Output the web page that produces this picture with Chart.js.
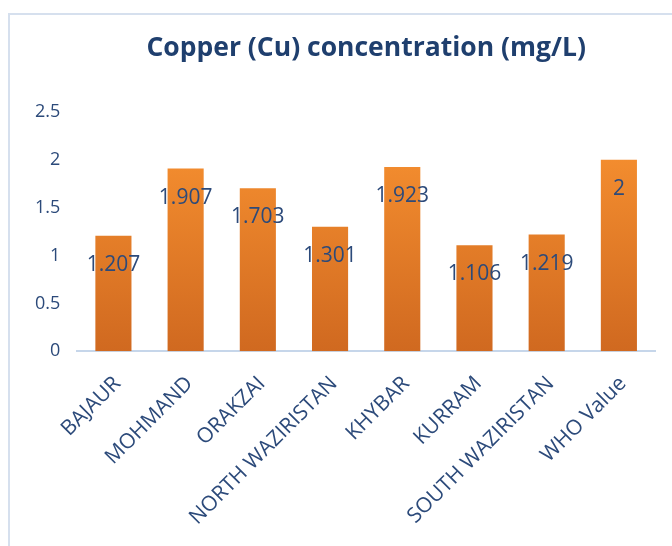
<!DOCTYPE html>
<html>
<head>
<meta charset="utf-8">
<script src="https://cdn.jsdelivr.net/npm/chart.js@4.4.1/dist/chart.umd.min.js"></script>
<style>
  html, body { margin: 0; padding: 0; background: #fff; }
  #frame {
    position: absolute; left: 8px; top: 13px;
    width: 700px; height: 600px;
    border: 2px solid #d6e0ee;
  }
  #wrap { position: absolute; left: 0; top: 0; width: 672px; height: 546px; }
</style>
</head>
<body>
<div id="frame"></div>
<div id="wrap"><canvas id="cuChart"></canvas></div>
<script>
// data
const districts = ['BAJAUR', 'MOHMAND', 'ORAKZAI', 'NORTH WAZIRISTAN', 'KHYBAR', 'KURRAM', 'SOUTH WAZIRISTAN', 'WHO Value'];
const copperValues = [1.207, 1.907, 1.703, 1.301, 1.923, 1.106, 1.219, 2];
const valueLabels = ['1.207', '1.907', '1.703', '1.301', '1.923', '1.106', '1.219', '2'];
const yTicks = [0, 0.5, 1, 1.5, 2, 2.5];

const textBlue = '#2c4a7a';
const font = '"Open Sans", "DejaVu Sans", sans-serif';

// orange gradient, lighter at top
function barGradient(context) {
    const area = context.chart.chartArea;
    if (!area) return '#f08a2a';
    const g = context.chart.ctx.createLinearGradient(0, area.top, 0, area.bottom);
    g.addColorStop(0, '#fb9532');
    g.addColorStop(1, '#d06920');
    return g;
}

// value labels just inside the bar top
const valueLabelPlugin = {
    id: 'valueLabels',
    afterDatasetsDraw(chart) {
        const c = chart.ctx;
        const meta = chart.getDatasetMeta(0);
        c.save();
        c.fillStyle = textBlue;
        c.font = '21px ' + font;
        c.textAlign = 'center';
        c.textBaseline = 'middle';
        meta.data.forEach((bar, i) => {
            c.fillText(valueLabels[i], bar.x, bar.y + 29);
        });
        c.restore();
    }
};

const ctx = document.getElementById('cuChart').getContext('2d');

new Chart(ctx, {
    type: 'bar',
    data: {
        labels: districts,
        datasets: [{
            data: copperValues,
            backgroundColor: barGradient,
            borderWidth: 0,
            categoryPercentage: 1,
            barPercentage: 0.5
        }]
    },
    options: {
        responsive: true,
        maintainAspectRatio: false,
        animation: false,
        layout: {
            padding: { left: 18, right: 17, top: 12, bottom: -4 }
        },
        plugins: {
            legend: { display: false },
            tooltip: { enabled: false },
            title: {
                display: true,
                fullSize: false,
                text: 'Copper (Cu) concentration (mg/L)',
                color: '#1f3f6e',
                font: { family: font, size: 26.5, weight: 'bold' },
                padding: { top: 21, bottom: 47 }
            }
        },
        scales: {
            y: {
                min: 0,
                max: 2.5,
                afterBuildTicks(axis) {
                    axis.ticks = yTicks.map(v => ({ value: v }));
                },
                ticks: {
                    color: textBlue,
                    font: { family: font, size: 18 },
                    padding: 17,
                    callback: v => String(v)
                },
                grid: { display: false, drawTicks: false },
                border: { display: false }
            },
            x: {
                afterFit(axis) {
                    // rotated labels may hang past the plot edge
                    axis.paddingLeft = 0;
                    axis.paddingRight = 0;
                },
                ticks: {
                    color: textBlue,
                    font: { family: font, size: 21 },
                    minRotation: 45,
                    maxRotation: 45,
                    padding: 20,
                    labelOffset: 4
                },
                grid: { display: false, drawTicks: false },
                border: { display: true, color: '#c6d6ea', width: 2 }
            }
        }
    },
    plugins: [valueLabelPlugin]
});
</script>
</body>
</html>
